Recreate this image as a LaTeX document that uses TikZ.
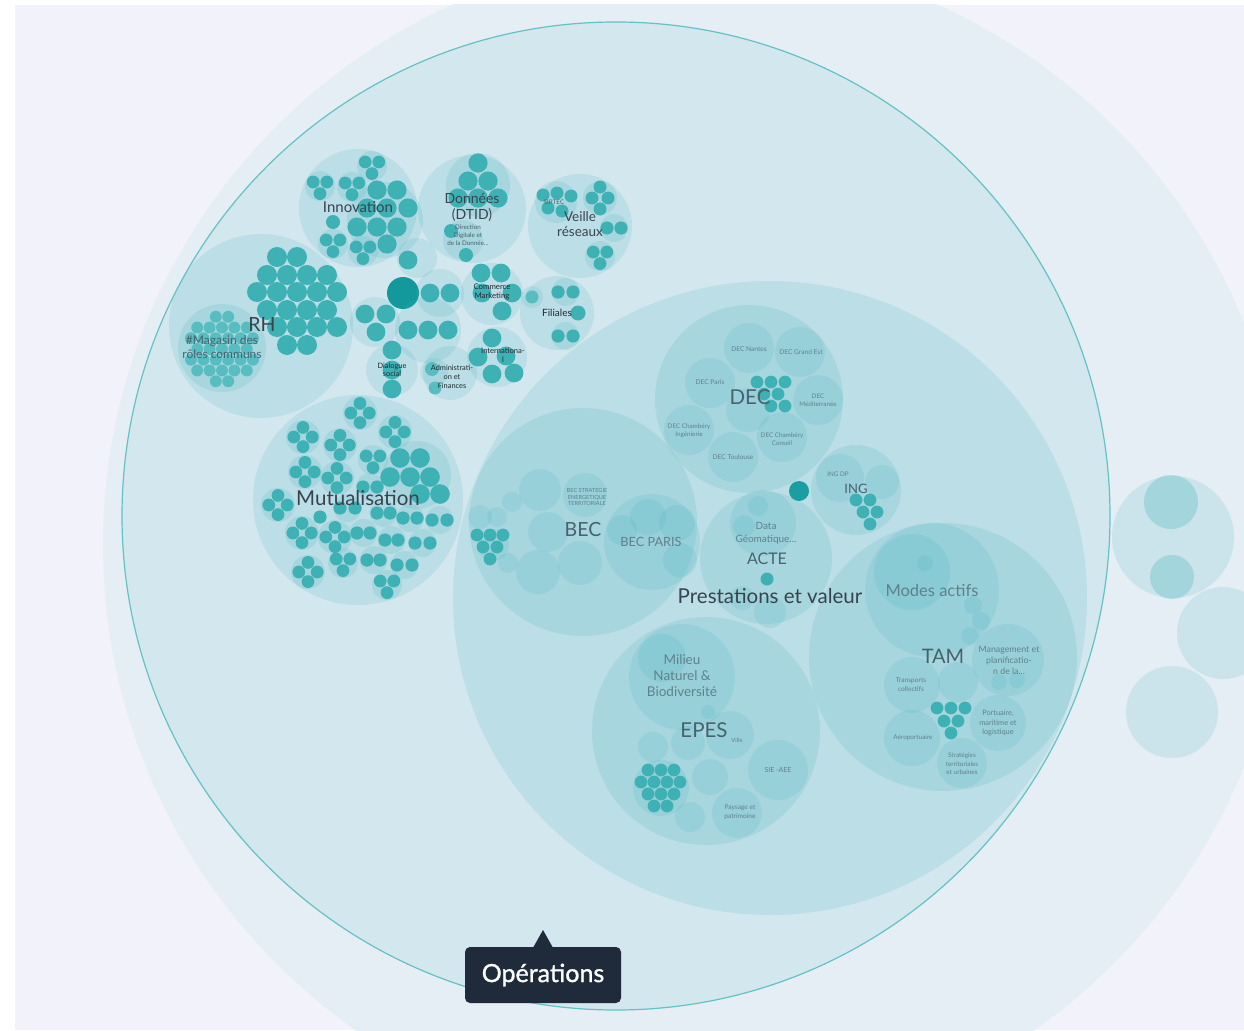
\documentclass[tikz,border=0pt]{standalone}
\usepackage{fontspec}
\setmainfont{Lato}
\newfontface\tipfont{Lato}[FakeBold=1.2]
\definecolor{bgc}{HTML}{F1F2FA}
\definecolor{rootc}{HTML}{E5EEF4}
\definecolor{opc}{HTML}{D3E7EE}
\definecolor{opline}{HTML}{62C2C4}
\definecolor{tealc}{RGB}{60,175,185}
\definecolor{leafc}{HTML}{3DB1B4}
\definecolor{leafl}{HTML}{58BDC0}
\definecolor{darkleaf}{HTML}{13999C}
\definecolor{txt}{HTML}{37444E}
\definecolor{txtd}{HTML}{1F2A30}
\definecolor{txtm}{HTML}{46636E}
\definecolor{txtl}{HTML}{5F818B}
\definecolor{tipc}{HTML}{1F2A3B}
\tikzset{
 lv/.style={fill=tealc, fill opacity=0.15},
 leaf/.style={fill=leafc},
 leafb/.style={fill=leafl},
 lab/.style={text=txt, inner sep=0pt, align=center},
 labd/.style={text=txtd, inner sep=0pt, align=center},
 labm/.style={text=txtm, inner sep=0pt, align=center},
 labl/.style={text=txtl, inner sep=0pt, align=center},
 fz/.style 2 args={font=\fontsize{#1}{#2}\selectfont},
}
\newcommand\gc[3]{\fill[lv] (#1,#2) circle[radius=#3];}
\newcommand\lf[3]{\fill[leaf] (#1,#2) circle[radius=#3];}
\newcommand\quadg[2]{\fill[lv] (#1,#2) circle[radius=17];\foreach \dx/\dy in {0/-9.6,-9.2/0,9.2/0,0/9.6}{\fill[leaf] ({#1+\dx},{#2+\dy}) circle[radius=6.4];}}
\newcommand\trig[2]{\fill[lv] (#1,#2) circle[radius=15];\foreach \dx/\dy in {-6.8/-4,6.8/-4,0/7.6}{\fill[leaf] ({#1+\dx},{#2+\dy}) circle[radius=6.4];}}
\newcommand\pairg[3]{\fill[lv] ({(#1+#2)/2},#3) circle[radius=14];\fill[leaf] (#1,#3) circle[radius=6.6];\fill[leaf] (#2,#3) circle[radius=6.6];}
\newcommand\hexpack[5]{%
 \foreach \ii in {-9,...,9}{%
  \foreach \jj in {-9,...,9}{%
   \pgfmathsetmacro\hx{#1+2*#4*(\ii+0.5*\jj)}%
   \pgfmathsetmacro\hy{#2+1.7320508*#4*\jj}%
   \pgfmathtruncatemacro\hok{(veclen(\hx-#1,\hy-#2)<=(#3-#4))?1:0}%
   \ifnum\hok=1 \fill[#5] (\hx,\hy) circle[radius=#4*0.96];\fi
  }}}
\begin{document}
\begin{tikzpicture}[x=1pt,y=-1pt]
\useasboundingbox (0,0) rectangle (1244,1030);
\fill[white] (0,0) rectangle (1244,1030);
\begin{scope}
\clip (15,5) rectangle (1244,1030);
\fill[bgc] (15,5) rectangle (1244,1030);
\fill[rootc] (695,545) circle[radius=592];
% right-hand siblings
\gc{1173}{537}{61}
\gc{1171}{502}{27}\gc{1171}{502}{27}
\gc{1172}{577}{22}\gc{1172}{577}{22}
\gc{1223}{633}{46}
\gc{1172}{712}{46}
% Operations
\fill[opc] (616,516) circle[radius=494];

% ---------- RH ----------
\gc{261}{326}{92}
\gc{222}{348}{44}
\hexpack{222}{349}{43}{6.2}{leafb}
\foreach \x in {277,297}{\lf{\x}{257}{10}}
\foreach \x in {267,287,307,327}{\lf{\x}{275}{10}}
\foreach \x in {257,277,297,317,337}{\lf{\x}{292}{10}}
\foreach \x in {267,287,307,327}{\lf{\x}{310}{10}}
\foreach \x in {277,297,317,337}{\lf{\x}{327}{10}}
\foreach \x in {287,307}{\lf{\x}{345}{10}}

% ---------- Innovation ----------
\gc{358}{208}{59}
\trig{372}{166}
\trig{320}{186}
\trig{352}{187}
\trig{333}{244}
\trig{363}{251}
\gc{385}{220}{38}
\foreach \x/\y in {377/190,397/190,408/208,367/208,387/208,357/227,377/227,397/227,387/244}{\lf{\x}{\y}{9.6}}
\lf{333}{222}{7}

% ---------- Donnees ----------
\gc{472}{209}{54}
\gc{478}{185}{32}
\foreach \x/\y in {478/163,468/181,488/181,458/198,478/198,498/198}{\lf{\x}{\y}{9.6}}
\gc{463}{240}{20}
\lf{451}{231}{7}\lf{466}{255}{7}

% ---------- Veille reseaux ----------
\gc{580}{226}{52}
\gc{556}{202}{21}
\foreach \x/\y in {543/195,557/193,571/196,548/208,562/211}{\lf{\x}{\y}{6.5}}
\gc{600}{198}{17}
\foreach \x/\y in {600/187,592/198,608/198,600/209}{\lf{\x}{\y}{6.5}}
\pairg{607}{621}{228}
\trig{600}{256}

% ---------- Filiales ----------
\gc{557}{313}{37}
\gc{532}{297}{11}\fill[leafb] (532,297) circle[radius=6.5];
\pairg{558}{573}{292}
\lf{578}{313}{7.5}
\pairg{558}{573}{336}

% ---------- Commerce Marketing ----------
\gc{492}{294}{31}
\foreach \x/\y in {481/273,501/273,512/293,482/293,502/311}{\lf{\x}{\y}{9.4}}

% ---------- International ----------
\gc{497}{357}{30}
\foreach \x/\y in {492/338,478/357,506/356,492/374,514/373}{\lf{\x}{\y}{9.4}}

% ---------- Administration ----------
\gc{450}{373}{27}
\gc{434}{372}{14}
\fill[leafb] (432,369) circle[radius=7];
\fill[leafb] (435,388) circle[radius=6.5];

% ---------- Dialogue social ----------
\gc{392}{370}{26}
\foreach \y in {350,370,389}{\lf{392}{\y}{9.4}}

% ---------- centre ----------
\fill[darkleaf] (403,293) circle[radius=16];
\gc{375}{322}{25}
\foreach \x/\y in {365/314,386/314,376/332}{\lf{\x}{\y}{9.4}}
\gc{440}{293}{24}
\foreach \x in {430,450}{\lf{\x}{293}{9.4}}
\gc{428}{330}{33}
\foreach \x in {408,428,448}{\lf{\x}{330}{9.4}}
\gc{417}{258}{20}
\lf{408}{260}{9.4}

% ---------- Mutualisation ----------
\gc{358}{500}{105}
\quadg{360}{413}
\quadg{303}{437}
\quadg{340}{445}
\quadg{395}{432}
\quadg{305}{472}
\quadg{337}{478}
\quadg{278}{505}
\quadg{302}{533}
\quadg{335}{537}
\quadg{308}{572}
\trig{373}{460}
\trig{343}{563}
\trig{387}{585}
\gc{417}{475}{34}
\foreach \x/\y in {400/458,420/458,390/477,410/477,430/477,420/494,440/494}{\lf{\x}{\y}{9.8}}
\pairg{363}{377}{487}
\pairg{340}{355}{508}
\lf{320}{517}{6.6}
\pairg{377}{390}{513}
\pairg{403}{417}{518}
\pairg{432}{447}{520}
\pairg{357}{370}{533}
\pairg{385}{398}{540}
\pairg{415}{430}{543}
\pairg{367}{380}{560}
\pairg{397}{412}{565}

% ---------- Prestations et valeur ----------
\gc{770}{598}{317}

% BEC
\gc{583}{522}{114}
\gc{540}{490}{21}
\gc{585}{495}{22}
\gc{548}{532}{20}
\gc{512}{502}{10}
\gc{480}{517}{12}
\gc{497}{517}{10}
\gc{538}{572}{22}
\gc{580}{563}{22}
\gc{508}{563}{10}
\gc{493}{545}{16}
\foreach \x/\y in {477/535,490/535,503/535,483/547,497/547,490/559}{\lf{\x}{\y}{6.4}}
\gc{652}{542}{48}
\gc{622}{530}{15}
\gc{648}{517}{18}
\gc{677}{523}{18}
\gc{680}{560}{17}

% DEC
\gc{749}{399}{94}
\gc{749}{348}{25}
\gc{800}{352}{25}
\gc{710}{383}{25}
\gc{818}{400}{25}
\gc{689}{430}{25}
\gc{782}{437}{25}
\gc{733}{457}{25}
\gc{748}{410}{22}
\foreach \x/\y in {757/382,771/382,785/382,764/394,778/394,771/406,785/406}{\lf{\x}{\y}{6.4}}

% ING
\gc{856}{490}{45}
\gc{840}{478}{24}
\gc{882}{482}{17}
\foreach \x/\y in {856/500,870/500,863/512,877/512,870/524}{\lf{\x}{\y}{6.4}}
\fill[fill=darkleaf!80!leafc] (799,491) circle[radius=10];

% ACTE
\gc{766}{558}{66}
\gc{763}{523}{33}
\gc{758}{506}{10}
\gc{744}{526}{11}
\gc{770}{612}{16}
\gc{742}{598}{12}
\lf{767}{579}{6.5}

% TAM
\gc{943}{657}{134}
\gc{932}{590}{67}
\gc{912}{572}{38}
\gc{925}{563}{8}
\gc{973}{605}{9}
\gc{981}{621}{9}
\gc{970}{636}{9}
\gc{1008}{660}{36}
\gc{999}{682}{8}
\gc{1017}{680}{8}
\gc{912}{685}{28}
\gc{958}{682}{20}
\gc{998}{723}{28}
\gc{912}{738}{28}
\gc{962}{763}{25}
\foreach \x/\y in {937/708,951/708,965/708,944/721,958/721,951/733}{\lf{\x}{\y}{6.4}}

% EPES
\gc{706}{731}{114}
\gc{682}{677}{53}
\gc{662}{658}{24}
\gc{708}{712}{7}
\gc{730}{735}{24}
\gc{653}{747}{15}
\gc{688}{743}{17}
\gc{710}{777}{18}
\gc{778}{770}{30}
\gc{737}{813}{25}
\gc{690}{817}{15}
\gc{661}{788}{28}
\foreach \x in {648,661,674}{\lf{\x}{770}{6.4}}
\foreach \x in {641,654,667,680}{\lf{\x}{782}{6.4}}
\foreach \x in {648,661,674}{\lf{\x}{794}{6.4}}
\foreach \x in {654,667}{\lf{\x}{806}{6.4}}

% Operations outline
\draw[opline, line width=1.2] (616,516) circle[radius=494];
\end{scope}

% ---------- labels ----------
\node[lab, fz={19.5}{22}] (tRH) at (262,325) {RH};
\node[labm, fz={12}{14}] (tMag) at (222,347) {\#Magasin des\\rôles communs};
\node[lab, fz={15}{17}] (tInno) at (358,207) {Innovation};
\node[lab, fz={14}{16}] (tDon) at (472,207) {Données\\(DTID)};
\node[labm, fz={6.3}{7.8}] (tDir) at (468,235) {Direction\\Digitale et\\de la Donnée...};
\node[lab, fz={13.5}{15.5}] (tVeil) at (580,224) {Veille\\réseaux};
\node[labm, fz={6.3}{7}] (tSir) at (554,202) {SIRTEC};
\node[labd, fz={10}{11}] (tFil) at (557,313) {Filiales};
\node[labd, fz={7.8}{9}] (tCom) at (492,292) {Commerce\\Marketing};
\node[labd, fz={7.6}{8.5}] (tInt) at (503,355) {Internationa-\\l};
\node[labd, fz={7.4}{9}] (tAdm) at (452,377) {Administrati-\\on et\\Finances};
\node[labd, fz={7.4}{8.5}] (tDia) at (392,370) {Dialogue\\social};
\node[lab, fz={20.5}{23}] (tMut) at (358,498) {Mutualisation};

\node[labm, fz={19.5}{22}] (tBEC) at (583,530) {BEC};
\node[labl, fz={5.6}{6.4}] (tBECs) at (587,497) {BEC STRATEGIE\\ENERGETIQUE\\TERRITORIALE};
\node[labl, fz={12.7}{14}] (tBECp) at (651,542) {BEC PARIS};
\node[labm, fz={20.5}{22}] (tDEC) at (750,397) {DEC};
\node[labl, fz={6.6}{8}] (tD1) at (749,349) {DEC Nantes};
\node[labl, fz={6.6}{8}] (tD2) at (801,352) {DEC Grand Est};
\node[labl, fz={6.6}{8.5}] (tD3) at (710,382) {DEC Paris};
\node[labl, fz={6.3}{8.5}] (tD4) at (818,400) {DEC\\Méditerranée};
\node[labl, fz={6.3}{8.5}] (tD5) at (689,431) {DEC Chambéry\\Ingénierie};
\node[labl, fz={6.3}{8.5}] (tD6) at (782,439) {DEC Chambéry\\Conseil};
\node[labl, fz={6.6}{8}] (tD7) at (733,457) {DEC Toulouse};
\node[labm, fz={13}{14}] (tING) at (856,489) {ING};
\node[labl, fz={6.3}{7}] (tINGd) at (838,474) {ING DP};
\node[labl, fz={10}{13}] (tData) at (766,533) {Data\\Géomatique...};
\node[labm, fz={16}{17}] (tACTE) at (767,559) {ACTE};
\node[lab, fz={20.5}{22}] (tPres) at (770,596) {Prestations et valeur};
\node[labl, fz={16.5}{18}] (tModes) at (932,590) {Modes actifs};
\node[labm, fz={20}{21}] (tTAM) at (943,656) {TAM};
\node[labl, fz={8.8}{11}] (tMan) at (1009,660) {Management et\\planificatio-\\n de la...};
\node[labl, fz={6.6}{9}] (tTra) at (911,685) {Transports\\collectifs};
\node[labl, fz={7.4}{9.5}] (tPor) at (998,723) {Portuaire,\\maritime et\\logistique};
\node[labl, fz={6.4}{7}] (tAer) at (913,738) {Aéroportuaire};
\node[labl, fz={6.4}{8.5}] (tStr) at (962,764) {Stratégies\\territoriales\\et urbaines};
\node[labl, fz={13.5}{16}] (tMil) at (682,676) {Milieu\\Naturel \&\\Biodiversité};
\node[labm, fz={20.5}{22}] (tEPES) at (704,730) {EPES};
\node[labl, fz={5.8}{6}] (tVil) at (737,740) {Ville};
\node[labl, fz={7}{8}] (tSIE) at (778,770) {SIE -AEE};
\node[labl, fz={6.6}{8.5}] (tPay) at (740,812) {Paysage et\\patrimoine};

% ---------- tooltip ----------
\node[fill=tipc, rounded corners=5, minimum width=156, minimum height=56, inner sep=0pt,
      text=white, font=\tipfont\fontsize{25}{28}\selectfont] (tip) at (543,975) {Opérations};
\coordinate (tiptop) at (543,930);
\fill[tipc] ([xshift=-10pt,yshift=-1pt]tip.north) -- (tiptop) -- ([xshift=10pt,yshift=-1pt]tip.north) -- cycle;
\end{tikzpicture}
\end{document}
